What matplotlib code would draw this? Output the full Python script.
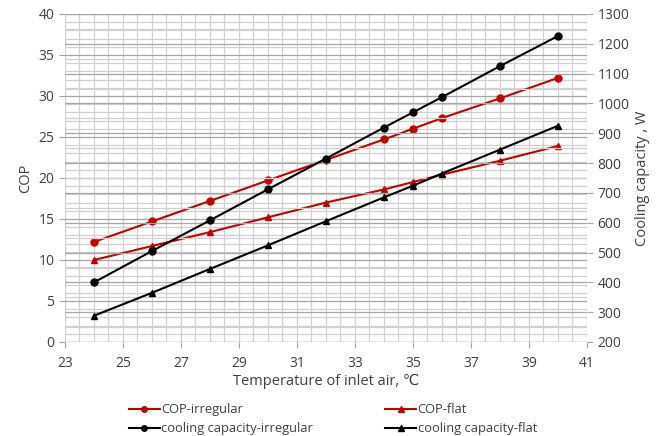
import matplotlib
matplotlib.use("Agg")
import matplotlib.pyplot as plt
from matplotlib.ticker import MultipleLocator

plt.rcParams["font.family"] = ["Open Sans", "DejaVu Sans"]

# inlet air temperature, degC
temp = [24, 26, 28, 30, 32, 34, 35, 36, 38, 40]
x_ticks = [23, 25, 27, 29, 31, 33, 35, 37, 39, 41]

# COP (left axis)
cop_irregular = [12.2, 14.7, 17.2, 19.7, 22.2, 24.7, 26.0, 27.3, 29.7, 32.2]
cop_flat = [10.0, 11.7, 13.4, 15.2, 17.0, 18.6, 19.5, 20.4, 22.1, 23.9]

# cooling capacity, W (right axis)
cap_irregular = [400, 505, 608, 712, 815, 919, 970, 1021, 1125, 1226]
cap_flat = [288, 365, 445, 524, 605, 685, 724, 765, 845, 925]

RED = "#c00000"
BLACK = "#000000"
TXT = "#404040"
GRID_MAJ = "#a6a6a6"
GRID_MIN = "#d0d0d0"

fig = plt.figure(figsize=(6.59, 4.36), dpi=100)
ax = fig.add_axes([0.0986, 0.2156, 0.792, 0.7524])
ax2 = ax.twinx()

ax.set_xlim(23, 41)
ax.set_ylim(0, 40)
ax2.set_ylim(200, 1300)
ax.set_xticks(x_ticks)
ax.xaxis.set_minor_locator(MultipleLocator(0.5))
ax.yaxis.set_major_locator(MultipleLocator(5))
ax.yaxis.set_minor_locator(MultipleLocator(1))
ax2.yaxis.set_major_locator(MultipleLocator(100))
ax2.yaxis.set_minor_locator(MultipleLocator(50))

ax.grid(which="both", axis="x", color=GRID_MIN, linewidth=0.9)
ax.grid(which="minor", axis="y", color=GRID_MIN, linewidth=0.9)
ax.grid(which="major", axis="y", color=GRID_MAJ, linewidth=0.9)
ax2.grid(which="minor", axis="y", color=GRID_MIN, linewidth=0.9)
ax2.grid(which="major", axis="y", color=GRID_MAJ, linewidth=0.9)
ax2.set_zorder(ax.get_zorder() + 1)
ax2.patch.set_visible(False)

cop_irr_line, = ax.plot(temp, cop_irregular, color=RED, marker="o", ms=5, lw=1.5,
                        label="COP-irregular")
cop_flat_line, = ax.plot(temp, cop_flat, color=RED, marker="^", ms=5, lw=1.5,
                         label="COP-flat")
cap_irr_line, = ax2.plot(temp, cap_irregular, color=BLACK, marker="o", ms=5, lw=1.5,
                         label="cooling capacity-irregular")
cap_flat_line, = ax2.plot(temp, cap_flat, color=BLACK, marker="^", ms=5, lw=1.5,
                          label="cooling capacity-flat")

for a in (ax, ax2):
    for s in a.spines.values():
        s.set_visible(False)
    a.tick_params(which="both", length=0, colors=TXT, labelsize=10)
    a.tick_params(which="major", length=4, color=GRID_MAJ)
ax.tick_params(axis="x", pad=6)

ax.set_ylabel("COP", color=TXT, fontsize=10.5)
ax2.set_ylabel("Cooling capacity , W", color=TXT, fontsize=10.5)
ax.set_xlabel("Temperature of inlet air, \u2103", color=TXT, fontsize=10.5, labelpad=2)

# legend fills column by column
order = [cop_irr_line, cap_irr_line, cop_flat_line, cap_flat_line]
fig.legend(order, [l.get_label() for l in order], ncol=2, frameon=False,
           loc="lower left", bbox_to_anchor=(0.178, -0.025), fontsize=9.3,
           labelcolor=TXT, handlelength=2.4, handletextpad=0.1,
           columnspacing=5.6, labelspacing=0.45, markerscale=0.8)

fig.savefig("out.png", dpi=100)
